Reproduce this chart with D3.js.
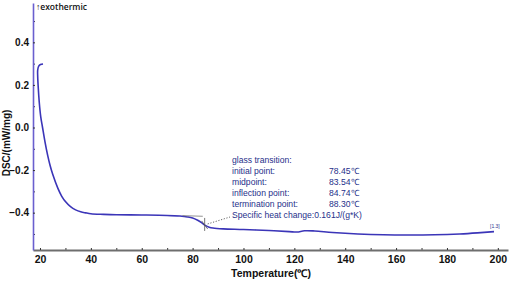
<!DOCTYPE html>
<html lang="en">
<head>
    <meta charset="UTF-8">
    <title>DSC</title>
    <script src="https://d3js.org/d3.v7.min.js"></script>
    <style>
        body { margin: 0; background: #fff; }
        text { font-family: "Liberation Sans", Arial, sans-serif; }
    </style>
</head>
<body>
<svg width="512" height="281"></svg>
<script>
    // DSC curve (temperature in C, DSC in mW/mg)
    const temps = [21.2, 20.2, 19.5, 19.1, 19.1, 19.3, 19.7, 20.3, 21.0, 22.0, 23.0, 24.0,
        25.0, 27.0, 28.5, 30.0, 32.0, 34.0, 36.0, 38.0, 40.0, 45.0, 50.0, 60.0, 70.0,
        75.0, 78.0, 80.0, 82.0, 83.5, 85.0, 86.5, 88.0, 92.0, 100, 110, 118, 121, 124,
        128, 135, 145, 155, 165, 175, 185, 192, 198.5];
    const dsc = [0.298, 0.296, 0.288, 0.27, 0.24, 0.19, 0.12, 0.05, 0.0, -0.07, -0.13, -0.18,
        -0.22, -0.285, -0.322, -0.348, -0.372, -0.387, -0.396, -0.401, -0.405, -0.408, -0.41, -0.411, -0.413,
        -0.416, -0.42, -0.425, -0.436, -0.447, -0.46, -0.468, -0.472, -0.476, -0.479, -0.484, -0.489, -0.491, -0.485,
        -0.486, -0.493, -0.5, -0.504, -0.505, -0.504, -0.5, -0.495, -0.489];

    const xTicks = [20, 40, 60, 80, 100, 120, 140, 160, 180, 200];
    const xMinor = [30, 50, 70, 90, 110, 130, 150, 170, 190];
    const yTicks = [-0.4, -0.2, 0.0, 0.2, 0.4];
    const yMinor = [-0.5, -0.3, -0.1, 0.1, 0.3, 0.5];

    const glassLabels = ["glass transition:", "initial point:", "midpoint:", "inflection point:", "termination point:", "Specific heat change:0.161J/(g*K)"];
    const glassValues = ["", "78.45℃", "83.54℃", "84.74℃", "88.30℃", ""];
    const inflectionT = 84.74;

    const svg = d3.select('svg');
    const x = d3.scaleLinear().domain([17.25, 204]).range([33, 508]);
    const y = d3.scaleLinear().domain([-0.5754, 0.5848]).range([250, 3]);

    // minor ticks
    svg.append('g')
        .attr('transform', 'translate(0,250)')
        .call(d3.axisBottom(x).tickValues(xMinor).tickSize(-2).tickFormat(''))
        .call(g => g.select('.domain').remove())
        .selectAll('line').attr('stroke', '#333');
    svg.append('g')
        .attr('transform', 'translate(33,0)')
        .call(d3.axisLeft(y).tickValues(yMinor).tickSize(-2).tickFormat(''))
        .call(g => g.select('.domain').remove())
        .selectAll('line').attr('stroke', '#333');

    // x axis
    const xAxis = svg.append('g')
        .attr('transform', 'translate(0,250)')
        .call(d3.axisBottom(x).tickValues(xTicks).tickSizeInner(-2).tickSizeOuter(0).tickPadding(6));
    xAxis.select('.domain').attr('stroke', '#6e6e6e').attr('stroke-width', 1.8);
    xAxis.selectAll('line').attr('stroke', '#333');
    xAxis.selectAll('text').attr('font-size', 10.5).attr('font-weight', 'bold').attr('fill', '#111');

    // y axis
    const yAxis = svg.append('g')
        .attr('transform', 'translate(33,0)')
        .call(d3.axisLeft(y).tickValues(yTicks).tickSizeInner(-2).tickSizeOuter(0).tickPadding(4)
            .tickFormat(d3.format('.1f')));
    yAxis.select('.domain').attr('stroke', '#6a5fcf').attr('stroke-width', 1.6);
    yAxis.selectAll('line').attr('stroke', '#333');
    yAxis.selectAll('text').attr('font-size', 10).attr('font-weight', 'bold').attr('fill', '#111');

    // titles
    svg.append('text')
        .attr('x', 271).attr('y', 277)
        .attr('text-anchor', 'middle')
        .attr('font-size', 10.5).attr('font-weight', 'bold').attr('fill', '#111')
        .text('Temperature(℃)');
    svg.append('text')
        .attr('transform', 'translate(10,143) rotate(-90)')
        .attr('text-anchor', 'middle')
        .attr('font-size', 10).attr('font-weight', 'bold').attr('fill', '#111')
        .text('DSC/(mW/mg)');
    svg.append('text')
        .attr('x', 36).attr('y', 10)
        .attr('font-size', 8.5).attr('font-weight', 600).attr('fill', '#111')
        .style('font-family', '"Open Sans", sans-serif')
        .text('↑exothermic');

    // curve
    const pts = temps.map((t, i) => [t, dsc[i]]);
    svg.append('path')
        .datum(pts)
        .attr('d', d3.line().x(d => x(d[0])).y(d => y(d[1])).curve(d3.curveCatmullRom))
        .attr('fill', 'none')
        .attr('stroke', '#3b35b8')
        .attr('stroke-width', 1.6);

    // glass transition markers
    const vAt = t => {
        const i = d3.bisector(d => d[0]).left(pts.slice(8), t) + 8;
        const a = pts[i - 1], b = pts[i];
        return a[1] + (b[1] - a[1]) * (t - a[0]) / (b[0] - a[0]);
    };
    const mx = x(inflectionT), my = y(vAt(inflectionT));
    svg.append('line')
        .attr('x1', x(76)).attr('y1', y(-0.414))
        .attr('x2', x(84)).attr('y2', y(-0.417))
        .attr('stroke', '#777').attr('stroke-width', 0.8);
    svg.append('line')
        .attr('x1', mx).attr('y1', my - 7).attr('x2', mx).attr('y2', my + 6)
        .attr('stroke', '#555').attr('stroke-width', 0.8);
    svg.append('line')
        .attr('x1', mx - 3).attr('y1', my - 4).attr('x2', mx + 3).attr('y2', my + 4)
        .attr('stroke', '#555').attr('stroke-width', 0.8);
    svg.append('line')
        .attr('x1', mx + 3).attr('y1', my - 1).attr('x2', 230).attr('y2', 217)
        .attr('stroke', '#555').attr('stroke-width', 0.9)
        .attr('stroke-dasharray', '1.2,1.6');

    const note = svg.append('g').attr('fill', '#26308a')
        .style('font-family', '"Open Sans", sans-serif')
        .attr('font-size', 8.6).attr('font-weight', 500);
    glassLabels.forEach((s, i) => {
        note.append('text').attr('x', 232).attr('y', 163 + i * 11).text(s);
        if (glassValues[i]) note.append('text').attr('x', 329).attr('y', 163 + i * 11).text(glassValues[i]);
    });
    svg.append('text')
        .attr('x', 490).attr('y', 228)
        .attr('font-size', 5).attr('fill', '#2c3590')
        .text('[1.3]');
</script>
</body>
</html>
